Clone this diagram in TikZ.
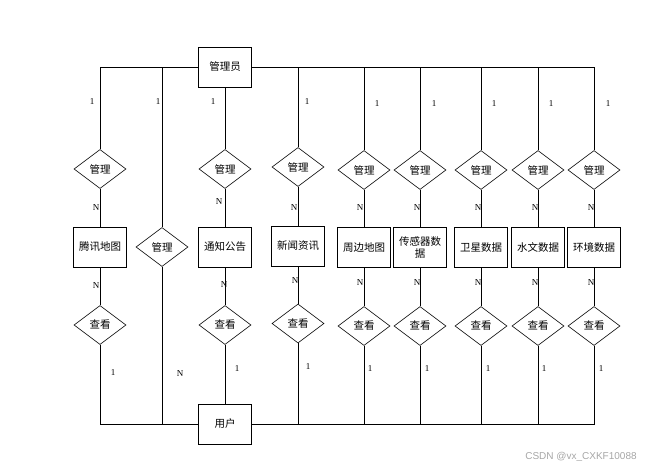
\documentclass[tikz,border=0pt]{standalone}
\usepackage{fontspec}
\setmainfont{Liberation Serif}
\setsansfont{Liberation Sans}
\newfontfamily\cjkfont{Noto Sans CJK SC}
\usetikzlibrary{shapes.geometric}

\begin{document}
\begin{tikzpicture}[
  x=1pt, y=-1pt,
  entity/.style={draw, line width=0.9pt, font=\cjkfont\fontsize{10.5}{12}\selectfont,
    minimum width=53pt, minimum height=40pt, inner sep=1pt, align=center},
  rel/.style={draw, diamond, line width=0.6pt, font=\cjkfont\fontsize{10.5}{12}\selectfont,
    minimum width=52pt, minimum height=39pt, inner sep=0pt},
  card/.style={font=\fontsize{9}{10}\selectfont, inner sep=0pt},
  link/.style={line width=0.7pt},
]
\useasboundingbox (0,0) rectangle (648,468);
% entities
\node[entity] (admin) at (225,67) {管理员};
\node[entity] (user) at (225,424) {用户};
\node[entity] (e1) at (100,247) {腾讯地图};
\node[entity] (e3) at (225,247) {通知公告};
\node[entity] (e4) at (298,246) {新闻资讯};
\node[entity] (e5) at (364,247.5) {周边地图};
\node[entity] (e6) at (420,247.5) {传感器数\\据};
\node[entity] (e7) at (481,247.5) {卫星数据};
\node[entity] (e8) at (538,247.5) {水文数据};
\node[entity] (e9) at (594,247.5) {环境数据};
% relations, admin side
\node[rel] (r1) at (100,169) {管理};
\node[rel] (m2) at (162,247) {管理};
\node[rel] (r3) at (225,169) {管理};
\node[rel] (r4) at (298,167) {管理};
\node[rel] (r5) at (364,170) {管理};
\node[rel] (r6) at (420,170) {管理};
\node[rel] (r7) at (481,170) {管理};
\node[rel] (r8) at (538,170) {管理};
\node[rel] (r9) at (594,170) {管理};
% relations, user side
\node[rel] (v1) at (100,325) {查看};
\node[rel] (v3) at (225,325) {查看};
\node[rel] (v4) at (298,323.5) {查看};
\node[rel] (v5) at (364,326) {查看};
\node[rel] (v6) at (420,326) {查看};
\node[rel] (v7) at (481,326) {查看};
\node[rel] (v8) at (538,326) {查看};
\node[rel] (v9) at (594,326) {查看};
% links
\draw[link] (admin.west) -| (r1.north);
\draw[link] (admin.west) -| (m2.north);
\draw[link] (admin) -- (r3);
\draw[link] (admin.east) -| (r4.north);
\draw[link] (admin.east) -| (r5.north);
\draw[link] (admin.east) -| (r6.north);
\draw[link] (admin.east) -| (r7.north);
\draw[link] (admin.east) -| (r8.north);
\draw[link] (admin.east) -| (r9.north);
\draw[link] (r1) -- (e1) -- (v1);
\draw[link] (r3) -- (e3) -- (v3);
\draw[link] (r4) -- (e4) -- (v4);
\draw[link] (r5) -- (e5) -- (v5);
\draw[link] (r6) -- (e6) -- (v6);
\draw[link] (r7) -- (e7) -- (v7);
\draw[link] (r8) -- (e8) -- (v8);
\draw[link] (r9) -- (e9) -- (v9);
\draw[link] (v1.south) |- (user.west);
\draw[link] (m2.south) |- (user.west);
\draw[link] (v3) -- (user);
\draw[link] (v4.south) |- (user.east);
\draw[link] (v5.south) |- (user.east);
\draw[link] (v6.south) |- (user.east);
\draw[link] (v7.south) |- (user.east);
\draw[link] (v8.south) |- (user.east);
\draw[link] (v9.south) |- (user.east);
% cardinalities
\node[card] (a1) at (92,102) {1};
\node[card] (a2) at (158,102) {1};
\node[card] (a3) at (213,102) {1};
\node[card] (a4) at (307,102) {1};
\node[card] (a5) at (377,104) {1};
\node[card] (a6) at (434,104) {1};
\node[card] (a7) at (494,104) {1};
\node[card] (a8) at (551,104) {1};
\node[card] (a9) at (608,104) {1};
\node[card] (b1) at (96,208) {N};
\node[card] (b3) at (219,202) {N};
\node[card] (b4) at (294,208) {N};
\node[card] (b5) at (360,208) {N};
\node[card] (b6) at (417,208) {N};
\node[card] (b7) at (478,208) {N};
\node[card] (b8) at (535,208) {N};
\node[card] (b9) at (591,208) {N};
\node[card] (c1) at (96,286) {N};
\node[card] (c3) at (224,285) {N};
\node[card] (c4) at (295,281) {N};
\node[card] (c5) at (360,283) {N};
\node[card] (c6) at (417,283) {N};
\node[card] (c7) at (478,283) {N};
\node[card] (c8) at (535,283) {N};
\node[card] (c9) at (591,283) {N};
\node[card] (d1) at (113,373) {1};
\node[card] (d2) at (180,374) {N};
\node[card] (d3) at (237,369) {1};
\node[card] (d4) at (308,367) {1};
\node[card] (d5) at (370,369) {1};
\node[card] (d6) at (427,369) {1};
\node[card] (d7) at (488,369) {1};
\node[card] (d8) at (544,369) {1};
\node[card] (d9) at (601,369) {1};
\node[font=\sffamily\fontsize{10}{11}\selectfont, text=black!35, inner sep=0pt] (wm) at (581,457) {CSDN @vx\_CXKF10088};
\end{tikzpicture}
\end{document}
